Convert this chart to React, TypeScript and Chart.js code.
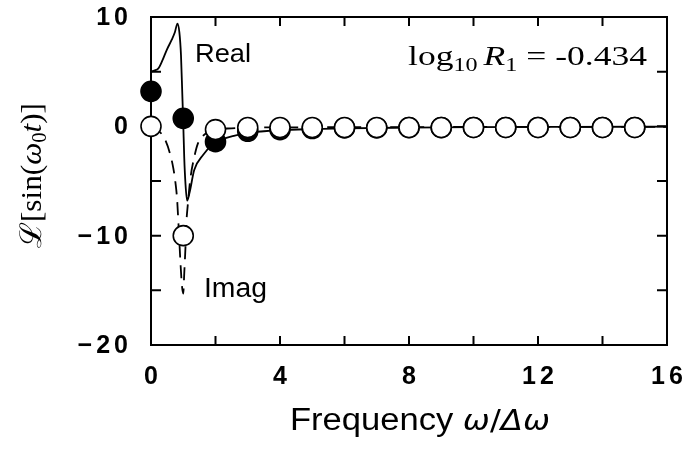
import { useEffect, useRef } from "react";
import { Chart, registerables } from "chart.js";

Chart.register(...registerables);

// Discrete spectrum samples (frequency in units of Δω)
const SAMPLE_FREQ = [0, 1, 2, 3, 4, 5, 6, 7, 8, 9, 10, 11, 12, 13, 14, 15];
const REAL_SAMPLES = [3.2, 0.73, -1.4, -0.45, -0.3, -0.2, -0.15, -0.15, -0.12, -0.12, -0.1, -0.1, -0.1, -0.1, -0.1, -0.1];
const IMAG_SAMPLES = [0, -10, -0.3, -0.1, -0.1, -0.1, -0.1, -0.1, -0.1, -0.1, -0.1, -0.1, -0.1, -0.1, -0.1, -0.1];

// Continuous transform, real part (solid)
const REAL_CURVE_FREQ = [0, 0.1, 0.23, 0.35, 0.49, 0.64, 0.74, 0.82, 0.88, 0.93, 0.97, 1.0, 1.03, 1.07, 1.12, 1.2, 1.34, 1.62, 1.9, 2.2, 2.6, 3, 3.5, 4, 5, 6, 8, 10, 13, 16];
const REAL_CURVE = [5.0, 5.1, 5.3, 6.0, 7.0, 7.9, 8.6, 9.4, 8.6, 6.5, 3.0, 0.3, -2.8, -5.3, -6.8, -6.0, -4.0, -2.6, -1.7, -1.2, -0.85, -0.6, -0.45, -0.35, -0.25, -0.18, -0.12, -0.08, -0.05, -0.03];

// Continuous transform, imaginary part (dashed)
const IMAG_CURVE_FREQ = [0, 0.12, 0.23, 0.33, 0.45, 0.59, 0.69, 0.76, 0.81, 0.87, 0.92, 0.96, 1.0, 1.03, 1.07, 1.1, 1.14, 1.22, 1.35, 1.45, 1.6, 1.8, 2.0, 2.5, 3, 4, 6, 10, 16];
const IMAG_CURVE = [0, -0.2, -0.4, -0.7, -1.3, -2.5, -3.8, -5.2, -6.7, -10.0, -12.8, -14.6, -15.3, -13.5, -11.0, -8.7, -7.2, -4.8, -2.7, -1.6, -0.9, -0.5, -0.3, -0.18, -0.12, -0.1, -0.08, -0.06, -0.05];

// Axes
const X_LABEL_TICKS = [0, 4, 8, 12, 16];
const Y_LABEL_TICKS = [-20, -10, 0, 10];
const X_MINOR_TICKS = [2, 4, 6, 8, 10, 12, 14];
const Y_MINOR_TICKS = [-15, -10, -5, 0, 5];

const SANS = '"Liberation Sans", Arial, sans-serif';
const SERIF = '"Liberation Serif", "Times New Roman", serif';
const GREEK = '"DejaVu Sans", sans-serif';
const TICK_FONT = `bold 25px ${SANS}`;

type Seg = { t: string; font: string; dy?: number };

function drawRich(
  ctx: CanvasRenderingContext2D,
  segs: Seg[],
  x: number,
  y: number,
  width: number,
  align: "left" | "center" = "left",
  rotate = false
) {
  ctx.save();
  (ctx as any).letterSpacing = "0px";
  const widths = segs.map((s) => {
    ctx.font = s.font;
    return ctx.measureText(s.t).width;
  });
  const total = widths.reduce((a, b) => a + b, 0);
  ctx.translate(x, y);
  if (rotate) ctx.rotate(-Math.PI / 2);
  ctx.scale(width / total, 1);
  ctx.fillStyle = "#000";
  ctx.textAlign = "left";
  ctx.textBaseline = "alphabetic";
  let cx = align === "center" ? -total / 2 : 0;
  segs.forEach((s, i) => {
    ctx.font = s.font;
    ctx.fillText(s.t, cx, s.dy ?? 0);
    cx += widths[i];
  });
  ctx.restore();
}

const tickText = (v: number) => (v < 0 ? "\u2212" + Math.abs(v) : String(v));

const framePlugin = {
  id: "frame",
  beforeDatasetsDraw(chart: any) {
    const { ctx, chartArea: a, scales } = chart;
    const xs = scales.x;
    const ys = scales.y;
    ctx.save();
    ctx.strokeStyle = "#000";
    ctx.lineWidth = 2;
    ctx.strokeRect(a.left, a.top, a.right - a.left, a.bottom - a.top);
    ctx.beginPath();
    for (const v of X_MINOR_TICKS) {
      const px = xs.getPixelForValue(v);
      ctx.moveTo(px, a.bottom);
      ctx.lineTo(px, a.bottom - 9);
      ctx.moveTo(px, a.top);
      ctx.lineTo(px, a.top + 9);
    }
    for (const v of Y_MINOR_TICKS) {
      const py = ys.getPixelForValue(v);
      ctx.moveTo(a.left, py);
      ctx.lineTo(a.left + 10, py);
      ctx.moveTo(a.right, py);
      ctx.lineTo(a.right - 10, py);
    }
    ctx.stroke();

    // tick labels
    ctx.fillStyle = "#000";
    ctx.font = TICK_FONT;
    (ctx as any).letterSpacing = "4px";
    ctx.textAlign = "right";
    ctx.textBaseline = "middle";
    for (const v of Y_LABEL_TICKS) {
      ctx.fillText(tickText(v), a.left - 19, ys.getPixelForValue(v) + 1);
    }
    ctx.textAlign = "center";
    ctx.textBaseline = "alphabetic";
    for (const v of X_LABEL_TICKS) {
      ctx.fillText(tickText(v), xs.getPixelForValue(v) + 2, a.bottom + 39);
    }
    ctx.restore();
  },
  afterDraw(chart: any) {
    const ctx: CanvasRenderingContext2D = chart.ctx;
    // y-axis title
    drawRich(
      ctx,
      [
        { t: "ℒ", font: `30px ${SERIF}` },
        { t: "[sin(", font: `30px ${SERIF}` },
        { t: "ω", font: `italic 30px ${SERIF}` },
        { t: "0", font: `20px ${SERIF}`, dy: 5 },
        { t: "t", font: `italic 30px ${SERIF}` },
        { t: ")]", font: `30px ${SERIF}` },
      ],
      41,
      175.5,
      145,
      "center",
      true
    );
    // x-axis title
    drawRich(
      ctx,
      [
        { t: "Frequency ", font: `31px ${SANS}` },
        { t: "ω", font: `italic 29px ${GREEK}` },
        { t: "/", font: `29px ${GREEK}` },
        { t: "Δω", font: `italic 29px ${GREEK}` },
      ],
      290,
      430,
      260
    );
    // curve labels
    drawRich(ctx, [{ t: "Real", font: `26px ${SANS}` }], 195, 62, 56);
    drawRich(ctx, [{ t: "Imag", font: `27px ${SANS}` }], 204, 297, 63);
    // parameter annotation
    drawRich(
      ctx,
      [
        { t: "log", font: `28px ${SERIF}` },
        { t: "10", font: `19px ${SERIF}`, dy: 6 },
        { t: " ", font: `19px ${SERIF}` },
        { t: "R", font: `italic 28px ${SERIF}` },
        { t: "1", font: `19px ${SERIF}`, dy: 6 },
        { t: " = ", font: `28px ${SERIF}` },
        { t: "-0.434", font: `28px ${SERIF}` },
      ],
      408,
      65,
      239
    );
  },
};

const pts = (xs: number[], ys: number[]) => xs.map((x, i) => ({ x, y: ys[i] }));

export default function App() {
  const canvasRef = useRef<HTMLCanvasElement | null>(null);

  useEffect(() => {
    const canvas = canvasRef.current;
    if (!canvas) return;
    const chart = new Chart(canvas, {
      type: "line",
      data: {
        datasets: [
          {
            label: "Imag samples",
            data: pts(SAMPLE_FREQ, IMAG_SAMPLES),
            showLine: false,
            pointRadius: 10,
            pointBorderWidth: 1.6,
            pointBackgroundColor: "#fff",
            pointBorderColor: "#000",
            order: 0,
            clip: false,
          },
          {
            label: "Real samples",
            data: pts(SAMPLE_FREQ, REAL_SAMPLES),
            showLine: false,
            pointRadius: 10,
            pointBorderWidth: 1.6,
            pointBackgroundColor: "#000",
            pointBorderColor: "#000",
            order: 1,
            clip: false,
          },
          {
            label: "Real",
            data: pts(REAL_CURVE_FREQ, REAL_CURVE),
            borderColor: "#000",
            borderWidth: 1.8,
            pointRadius: 0,
            cubicInterpolationMode: "monotone",
            order: 2,
          },
          {
            label: "Imag",
            data: pts(IMAG_CURVE_FREQ, IMAG_CURVE),
            borderColor: "#000",
            borderWidth: 1.8,
            borderDash: [13, 8],
            pointRadius: 0,
            cubicInterpolationMode: "monotone",
            order: 3,
          },
        ],
      },
      options: {
        responsive: false,
        animation: false,
        devicePixelRatio: 1,
        layout: { padding: { left: 151, top: 17, right: 21, bottom: 106 } },
        plugins: { legend: { display: false }, tooltip: { enabled: false } },
        scales: {
          x: { type: "linear", min: 0, max: 16, display: false },
          y: { type: "linear", min: -20, max: 10, display: false },
        },
      },
      plugins: [framePlugin],
    } as any);
    return () => chart.destroy();
  }, []);

  return (
    <div style={{ position: "absolute", left: 0, top: 0, width: 688, height: 451, background: "#fff" }}>
      <canvas ref={canvasRef} width={688} height={451} style={{ display: "block" }} />
    </div>
  );
}
